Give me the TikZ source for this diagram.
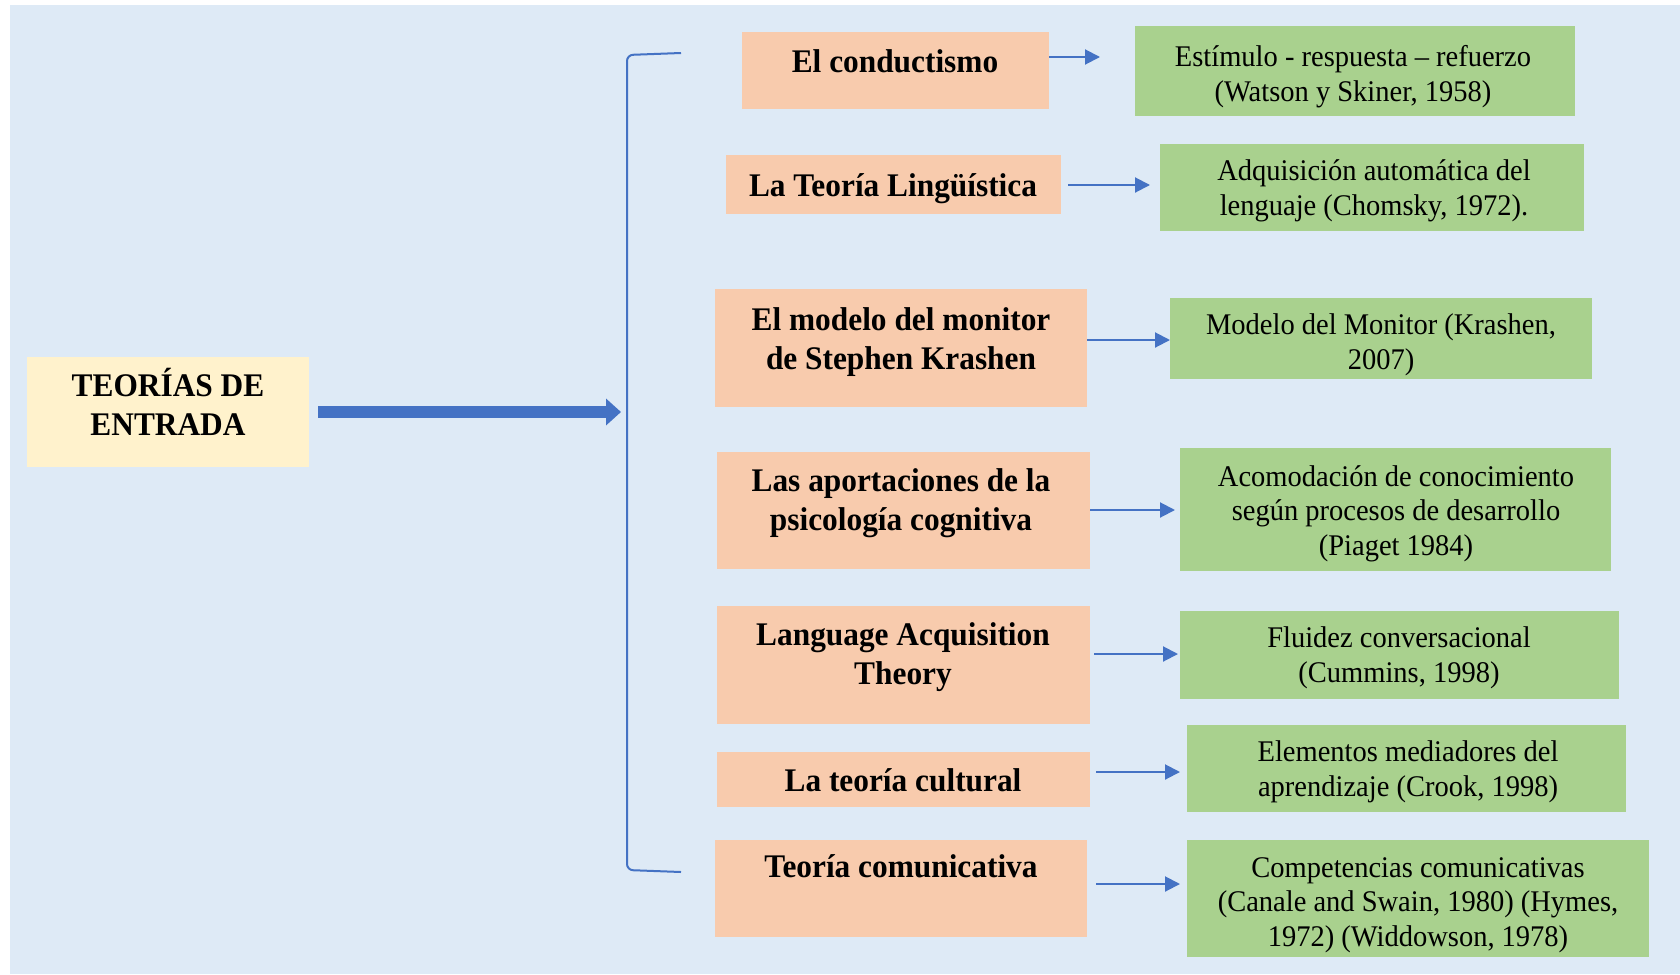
\documentclass[tikz,border=0pt]{standalone}
\usepackage{fontspec}
\setmainfont{Liberation Serif}[FakeStretch=0.95]
\usetikzlibrary{arrows.meta,calc}
\definecolor{bgblue}{HTML}{DEEAF6}
\definecolor{orangeF}{HTML}{F8CBAD}
\definecolor{greenF}{HTML}{A9D18E}
\definecolor{yellowF}{HTML}{FFF2CC}
\definecolor{arrblue}{HTML}{4472C4}
\newcommand\mybox[6]{%
  \node[#2, minimum width={(#5-#3)*1pt}, minimum height={(#6-#4)*1pt}] (#1) at ({(#3+#5)/2},{(#4+#6)/2}) {};}
\begin{document}
\begin{tikzpicture}[x=1pt,y=-1pt,
  boxbase/.style={inner sep=0pt, outer sep=0pt, draw=none, rectangle},
  obox/.style={boxbase, fill=orangeF},
  gbox/.style={boxbase, fill=greenF},
  ybox/.style={boxbase, fill=yellowF},
  otext/.style={font=\fontsize{33}{38.5}\selectfont\bfseries, align=center, anchor=base, inner sep=0pt},
  gtext/.style={font=\fontsize{30}{34.5}\selectfont, align=center, anchor=base, inner sep=0pt},
  arr/.style={draw=arrblue, line width=2pt, -{Triangle[length=15pt,width=15pt]}},
  bigarr/.style={draw=arrblue, line width=12pt, -{Triangle[length=15pt,width=26pt]}},
  brace/.style={draw=arrblue, line width=2pt, rounded corners=6pt}]
\useasboundingbox (0,0) rectangle (1680,974);
\fill[white] (0,0) rectangle (1680,974);
\fill[bgblue] (10,5) rectangle (1680,974);

% main box
\mybox{t}{ybox}{27}{357}{309}{467}
\node[otext] (tt) at (168,435) {TEORÍAS DE\\ENTRADA};

% orange boxes
\mybox{o1}{obox}{742}{32}{1049}{109}
\mybox{o2}{obox}{726}{155}{1061}{214}
\mybox{o3}{obox}{715}{289}{1087}{407}
\mybox{o4}{obox}{717}{452}{1090}{569}
\mybox{o5}{obox}{717}{606}{1090}{724}
\mybox{o6}{obox}{717}{752}{1090}{807}
\mybox{o7}{obox}{715}{840}{1087}{937}

\node[otext] (o1t) at (895,72) {El conductismo};
\node[otext] (o2t) at (893,196) {La Teoría Lingüística};
\node[otext] (o3t) at (901,369) {El modelo del monitor\\de Stephen Krashen};
\node[otext] (o4t) at (901,530) {Las aportaciones de la\\psicología cognitiva};
\node[otext] (o5t) at (903,684) {Language Acquisition\\Theory};
\node[otext] (o6t) at (903,791) {La teoría cultural};
\node[otext] (o7t) at (901,877) {Teoría comunicativa};

% green boxes
\mybox{g1}{gbox}{1135}{26}{1575}{116}
\mybox{g2}{gbox}{1160}{144}{1584}{231}
\mybox{g3}{gbox}{1170}{298}{1592}{379}
\mybox{g4}{gbox}{1180}{448}{1611}{571}
\mybox{g5}{gbox}{1180}{611}{1619}{699}
\mybox{g6}{gbox}{1187}{725}{1626}{812}
\mybox{g7}{gbox}{1187}{840}{1649}{957}

\node[gtext] (g1t) at (1353,101) {Estímulo - respuesta – refuerzo\\(Watson y Skiner, 1958)};
\node[gtext] (g2t) at (1374,215) {Adquisición automática del\\lenguaje (Chomsky, 1972).};
\node[gtext] (g3t) at (1381,369) {Modelo del Monitor (Krashen,\\2007)};
\node[gtext] (g4t) at (1396,555) {Acomodación de conocimiento\\según procesos de desarrollo\\(Piaget 1984)};
\node[gtext] (g5t) at (1399,682) {Fluidez conversacional\\(Cummins, 1998)};
\node[gtext] (g6t) at (1408,796) {Elementos mediadores del\\aprendizaje (Crook, 1998)};
\node[gtext] (g7t) at (1418,946) {Competencias comunicativas\\(Canale and Swain, 1980) (Hymes,\\1972) (Widdowson, 1978)};

% big arrow
\draw[bigarr] ($(t.east)+(9,0)$) -- (621,412);

% bracket
\coordinate (bt) at (681,53);
\coordinate (bb) at (681,872);
\draw[brace] (bt) -- (627,55) -- (627,870) -- (bb);

% small arrows
\draw[arr, shorten >=35pt] (o1.east |- 0,57) -- (g1.west |- 0,57);
\draw[arr, shorten <=7pt, shorten >=10pt] (o2.east |- 0,185) -- (g2.west |- 0,185);
\draw[arr] (o3.east |- 0,340) -- (g3.west |- 0,340);
\draw[arr, shorten >=5pt] (o4.east |- 0,510) -- (g4.west |- 0,510);
\draw[arr, shorten <=4pt, shorten >=2pt] (o5.east |- 0,654) -- (g5.west |- 0,654);
\draw[arr, shorten <=6pt, shorten >=7pt] (o6.east |- 0,772) -- (g6.west |- 0,772);
\draw[arr, shorten <=9pt, shorten >=7pt] (o7.east |- 0,884) -- (g7.west |- 0,884);
\end{tikzpicture}
\end{document}
